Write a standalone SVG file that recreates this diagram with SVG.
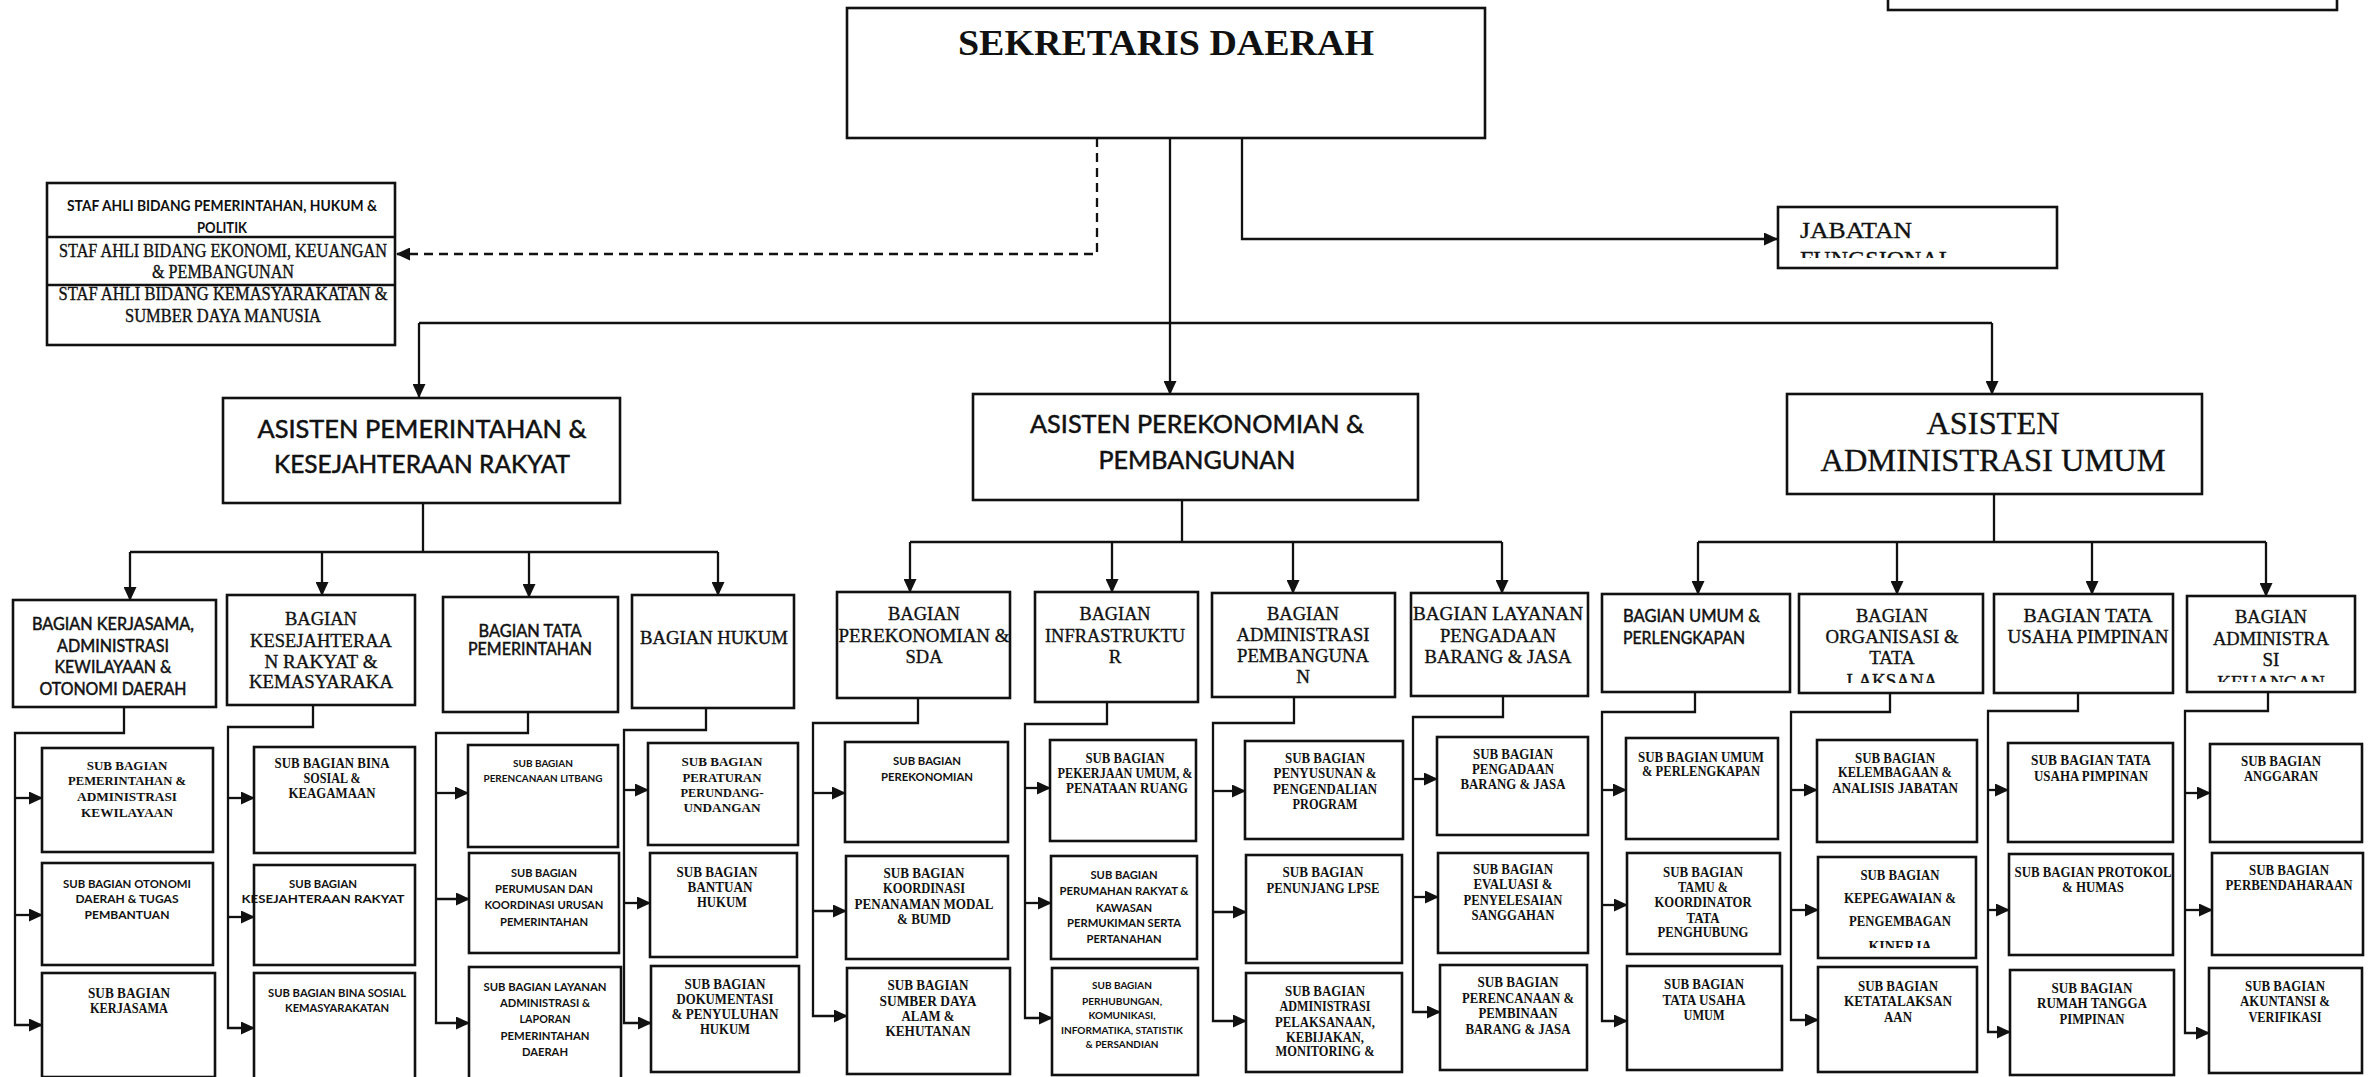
<svg xmlns="http://www.w3.org/2000/svg" width="2372" height="1077" viewBox="0 0 2372 1077">
<style>
.bx{fill:#fff;stroke:#111;stroke-width:2.6}
.c{fill:none;stroke:#111;stroke-width:2.3}
.d{stroke-dasharray:9 6}
text{fill:#111;text-anchor:middle}
.s{font-family:"Liberation Serif","Times New Roman",serif;stroke:#111;stroke-width:0.35}
.sb{font-family:"Liberation Serif","Times New Roman",serif;font-weight:bold}
.l{font-family:Lato,"Liberation Sans",sans-serif;stroke:#111;stroke-width:0.5}
.lb{font-family:Lato,"Liberation Sans",sans-serif;font-weight:bold}
</style>
<defs>
<marker id="ah" markerWidth="14" markerHeight="13" refX="13" refY="6.5" orient="auto" markerUnits="userSpaceOnUse"><path d="M0,0 L14,6.5 L0,13 z" fill="#111"/></marker>
<clipPath id="cpJab"><rect x="1778" y="207" width="279" height="51"/></clipPath>
<clipPath id="cpLak"><rect x="1799" y="594" width="184" height="89"/></clipPath>
<clipPath id="cpKeu"><rect x="2187" y="596" width="168" height="86"/></clipPath>
<clipPath id="cpKin"><rect x="1818" y="857" width="158" height="91"/></clipPath>
</defs>
<rect width="2372" height="1077" fill="#fff"/>

<g id="connectors" marker-end="url(#ah)">
<path class="c d" d="M1097,138 V254 H397"/>
<path class="c" d="M1242,138 V239 H1777"/>
<path class="c" d="M1170,138 V394"/>
<path class="c" d="M419,323 H1992" marker-end="none"/>
<path class="c" d="M419,323 V397"/>
<path class="c" d="M1992,323 V394"/>

<path class="c" d="M423,503 V552" marker-end="none"/>
<path class="c" d="M130,552 H718" marker-end="none"/>
<path class="c" d="M130,552 V600"/>
<path class="c" d="M322,552 V595"/>
<path class="c" d="M529,552 V597"/>
<path class="c" d="M718,552 V595"/>

<path class="c" d="M1182,500 V542" marker-end="none"/>
<path class="c" d="M910,542 H1502" marker-end="none"/>
<path class="c" d="M910,542 V592"/>
<path class="c" d="M1112,542 V592"/>
<path class="c" d="M1293,542 V593"/>
<path class="c" d="M1502,542 V593"/>

<path class="c" d="M1994,494 V542" marker-end="none"/>
<path class="c" d="M1698,542 H2266" marker-end="none"/>
<path class="c" d="M1698,542 V594"/>
<path class="c" d="M1897,542 V594"/>
<path class="c" d="M2092,542 V594"/>
<path class="c" d="M2266,542 V596"/>

<path class="c" d="M124,707 V733 H15 V1025 H42"/>
<path class="c" d="M15,798 H42"/>
<path class="c" d="M15,915 H42"/>

<path class="c" d="M313,705 V727 H228 V1028 H254"/>
<path class="c" d="M228,798 H254"/>
<path class="c" d="M228,917 H254"/>

<path class="c" d="M528,712 V733 H436 V1023 H469"/>
<path class="c" d="M436,793 H468"/>
<path class="c" d="M436,899 H469"/>

<path class="c" d="M706,708 V730 H624 V1023 H651"/>
<path class="c" d="M624,790 H648"/>
<path class="c" d="M624,903 H650"/>

<path class="c" d="M918,698 V723 H813 V1016 H847"/>
<path class="c" d="M813,793 H845"/>
<path class="c" d="M813,911 H846"/>

<path class="c" d="M1107,702 V724 H1025 V1018 H1052"/>
<path class="c" d="M1025,788 H1050"/>
<path class="c" d="M1025,903 H1051"/>

<path class="c" d="M1294,697 V723 H1213 V1021 H1246"/>
<path class="c" d="M1213,791 H1245"/>
<path class="c" d="M1213,912 H1246"/>

<path class="c" d="M1503,696 V717 H1413 V1012 H1440"/>
<path class="c" d="M1413,779 H1437"/>
<path class="c" d="M1413,897 H1438"/>

<path class="c" d="M1695,692 V712 H1602 V1021 H1627"/>
<path class="c" d="M1602,790 H1626"/>
<path class="c" d="M1602,905 H1627"/>

<path class="c" d="M1890,693 V712 H1791 V1020 H1818"/>
<path class="c" d="M1791,790 H1817"/>
<path class="c" d="M1791,910 H1818"/>

<path class="c" d="M2078,693 V711 H1988 V1032 H2010"/>
<path class="c" d="M1988,790 H2008"/>
<path class="c" d="M1988,910 H2009"/>

<path class="c" d="M2268,692 V711 H2185 V1033 H2209"/>
<path class="c" d="M2185,793 H2210"/>
<path class="c" d="M2185,910 H2212"/>
</g>

<g id="top-fragment"><rect class="bx" x="1888" y="-10" width="449" height="20"/></g>

<g id="sekda">
<rect class="bx" x="847" y="8" width="638" height="130"/>
<text class="sb" x="1166" y="55" font-size="35" textLength="416" lengthAdjust="spacingAndGlyphs">SEKRETARIS DAERAH</text>
</g>

<g id="staf-ahli">
<rect class="bx" x="47" y="183" width="348" height="162"/>
<line class="c" x1="47" y1="237" x2="395" y2="237"/>
<line class="c" x1="47" y1="285" x2="395" y2="285"/>
<text class="lb" x="222" y="211" font-size="15" textLength="310" lengthAdjust="spacingAndGlyphs">STAF AHLI BIDANG PEMERINTAHAN, HUKUM &amp;</text>
<text class="lb" x="222" y="233" font-size="15" textLength="50" lengthAdjust="spacingAndGlyphs">POLITIK</text>
<text class="s" x="223" y="257" font-size="18" textLength="328" lengthAdjust="spacingAndGlyphs">STAF AHLI BIDANG EKONOMI, KEUANGAN</text>
<text class="s" x="223" y="278" font-size="18" textLength="142" lengthAdjust="spacingAndGlyphs">&amp; PEMBANGUNAN</text>
<text class="s" x="223" y="300" font-size="18" textLength="329" lengthAdjust="spacingAndGlyphs">STAF AHLI BIDANG KEMASYARAKATAN &amp;</text>
<text class="s" x="223" y="322" font-size="18" textLength="196" lengthAdjust="spacingAndGlyphs">SUMBER DAYA MANUSIA</text>
</g>

<g id="jabatan-fungsional">
<rect class="bx" x="1778" y="207" width="279" height="61"/>
<text class="s" x="1800" y="238" font-size="24" style="text-anchor:start" textLength="112" lengthAdjust="spacingAndGlyphs">JABATAN</text>
<text class="s" x="1800" y="267" font-size="24" style="text-anchor:start" clip-path="url(#cpJab)">FUNGSIONAL</text>
</g>

<g id="asisten-pemerintahan">
<rect class="bx" x="223" y="398" width="397" height="105"/>
<text class="l" x="422" y="438" font-size="25" textLength="329" lengthAdjust="spacingAndGlyphs">ASISTEN PEMERINTAHAN &amp;</text>
<text class="l" x="422" y="473" font-size="25" textLength="296" lengthAdjust="spacingAndGlyphs">KESEJAHTERAAN RAKYAT</text>
</g>
<g id="asisten-perekonomian">
<rect class="bx" x="973" y="394" width="445" height="106"/>
<text class="l" x="1197" y="433" font-size="25" textLength="334" lengthAdjust="spacingAndGlyphs">ASISTEN PEREKONOMIAN &amp;</text>
<text class="l" x="1197" y="469" font-size="25" textLength="197" lengthAdjust="spacingAndGlyphs">PEMBANGUNAN</text>
</g>
<g id="asisten-administrasi">
<rect class="bx" x="1787" y="394" width="415" height="100"/>
<text class="s" x="1993" y="434" font-size="32" textLength="133" lengthAdjust="spacingAndGlyphs">ASISTEN</text>
<text class="s" x="1993" y="471" font-size="32" textLength="345" lengthAdjust="spacingAndGlyphs">ADMINISTRASI UMUM</text>
</g>

<!-- Column 1 -->
<g id="bagian-kerjasama">
<rect class="bx" x="13" y="600" width="203" height="107"/>
<text class="l" x="113" y="630" font-size="17" textLength="162" lengthAdjust="spacingAndGlyphs">BAGIAN KERJASAMA,</text>
<text class="l" x="113" y="652" font-size="17" textLength="112" lengthAdjust="spacingAndGlyphs">ADMINISTRASI</text>
<text class="l" x="113" y="673" font-size="17" textLength="117" lengthAdjust="spacingAndGlyphs">KEWILAYAAN &amp;</text>
<text class="l" x="113" y="695" font-size="17" textLength="147" lengthAdjust="spacingAndGlyphs">OTONOMI DAERAH</text>
</g>
<g id="sub-pemerintahan-adm-kewilayaan">
<rect class="bx" x="42" y="748" width="171" height="104"/>
<text class="sb" x="127" y="770" font-size="13">SUB BAGIAN</text>
<text class="sb" x="127" y="785" font-size="13" textLength="118" lengthAdjust="spacingAndGlyphs">PEMERINTAHAN &amp;</text>
<text class="sb" x="127" y="801" font-size="13" textLength="100" lengthAdjust="spacingAndGlyphs">ADMINISTRASI</text>
<text class="sb" x="127" y="817" font-size="13" textLength="92" lengthAdjust="spacingAndGlyphs">KEWILAYAAN</text>
</g>
<g id="sub-otonomi-daerah">
<rect class="bx" x="42" y="863" width="171" height="102"/>
<text class="lb" x="127" y="888" font-size="12" textLength="128" lengthAdjust="spacingAndGlyphs">SUB BAGIAN OTONOMI</text>
<text class="lb" x="127" y="903" font-size="12" textLength="103" lengthAdjust="spacingAndGlyphs">DAERAH &amp; TUGAS</text>
<text class="lb" x="127" y="919" font-size="12" textLength="85" lengthAdjust="spacingAndGlyphs">PEMBANTUAN</text>
</g>
<g id="sub-kerjasama">
<rect class="bx" x="42" y="973" width="173" height="104"/>
<text class="sb" x="129" y="998" font-size="14" textLength="82" lengthAdjust="spacingAndGlyphs">SUB BAGIAN</text>
<text class="sb" x="129" y="1013" font-size="14" textLength="78" lengthAdjust="spacingAndGlyphs">KERJASAMA</text>
</g>

<!-- Column 2 -->
<g id="bagian-kesra">
<rect class="bx" x="227" y="595" width="188" height="110"/>
<text class="s" x="321" y="625" font-size="19" textLength="72" lengthAdjust="spacingAndGlyphs">BAGIAN</text>
<text class="s" x="321" y="647" font-size="19" textLength="142" lengthAdjust="spacingAndGlyphs">KESEJAHTERAA</text>
<text class="s" x="321" y="668" font-size="19" textLength="113" lengthAdjust="spacingAndGlyphs">N RAKYAT &amp;</text>
<text class="s" x="321" y="688" font-size="19" textLength="144" lengthAdjust="spacingAndGlyphs">KEMASYARAKA</text>
</g>
<g id="sub-bina-sosial-keagamaan">
<rect class="bx" x="254" y="747" width="161" height="106"/>
<text class="sb" x="332" y="768" font-size="14" textLength="115" lengthAdjust="spacingAndGlyphs">SUB BAGIAN BINA</text>
<text class="sb" x="332" y="783" font-size="14" textLength="57" lengthAdjust="spacingAndGlyphs">SOSIAL &amp;</text>
<text class="sb" x="332" y="798" font-size="14" textLength="87" lengthAdjust="spacingAndGlyphs">KEAGAMAAN</text>
</g>
<g id="sub-kesejahteraan-rakyat">
<rect class="bx" x="254" y="865" width="161" height="100"/>
<text class="lb" x="323" y="888" font-size="12" textLength="68" lengthAdjust="spacingAndGlyphs">SUB BAGIAN</text>
<text class="lb" x="323" y="903" font-size="12" textLength="163" lengthAdjust="spacingAndGlyphs">KESEJAHTERAAN RAKYAT</text>
</g>
<g id="sub-bina-sosial-kemasyarakatan">
<rect class="bx" x="254" y="973" width="161" height="106"/>
<text class="lb" x="337" y="997" font-size="12" textLength="138" lengthAdjust="spacingAndGlyphs">SUB BAGIAN BINA SOSIAL</text>
<text class="lb" x="337" y="1012" font-size="12" textLength="104" lengthAdjust="spacingAndGlyphs">KEMASYARAKATAN</text>
</g>

<!-- Column 3 -->
<g id="bagian-tata-pemerintahan">
<rect class="bx" x="443" y="597" width="175" height="115"/>
<text class="l" x="530" y="637" font-size="18" textLength="103" lengthAdjust="spacingAndGlyphs">BAGIAN TATA</text>
<text class="l" x="530" y="655" font-size="18" textLength="124" lengthAdjust="spacingAndGlyphs">PEMERINTAHAN</text>
</g>
<g id="sub-perencanaan-litbang">
<rect class="bx" x="468" y="745" width="150" height="102"/>
<text class="lb" x="543" y="767" font-size="10" textLength="60" lengthAdjust="spacingAndGlyphs">SUB BAGIAN</text>
<text class="lb" x="543" y="782" font-size="10" textLength="119" lengthAdjust="spacingAndGlyphs">PERENCANAAN LITBANG</text>
</g>
<g id="sub-perumusan-koordinasi">
<rect class="bx" x="469" y="853" width="150" height="100"/>
<text class="lb" x="544" y="877" font-size="12" textLength="66" lengthAdjust="spacingAndGlyphs">SUB BAGIAN</text>
<text class="lb" x="544" y="893" font-size="12" textLength="98" lengthAdjust="spacingAndGlyphs">PERUMUSAN DAN</text>
<text class="lb" x="544" y="909" font-size="12" textLength="119" lengthAdjust="spacingAndGlyphs">KOORDINASI URUSAN</text>
<text class="lb" x="544" y="926" font-size="12" textLength="88" lengthAdjust="spacingAndGlyphs">PEMERINTAHAN</text>
</g>
<g id="sub-layanan-administrasi">
<rect class="bx" x="469" y="967" width="152" height="112"/>
<text class="lb" x="545" y="991" font-size="12" textLength="123" lengthAdjust="spacingAndGlyphs">SUB BAGIAN LAYANAN</text>
<text class="lb" x="545" y="1007" font-size="12" textLength="90" lengthAdjust="spacingAndGlyphs">ADMINISTRASI &amp;</text>
<text class="lb" x="545" y="1023" font-size="12" textLength="51" lengthAdjust="spacingAndGlyphs">LAPORAN</text>
<text class="lb" x="545" y="1040" font-size="12" textLength="89" lengthAdjust="spacingAndGlyphs">PEMERINTAHAN</text>
<text class="lb" x="545" y="1056" font-size="12" textLength="46" lengthAdjust="spacingAndGlyphs">DAERAH</text>
</g>

<!-- Column 4 -->
<g id="bagian-hukum">
<rect class="bx" x="632" y="595" width="162" height="113"/>
<text class="s" x="714" y="644" font-size="18" textLength="148" lengthAdjust="spacingAndGlyphs">BAGIAN HUKUM</text>
</g>
<g id="sub-peraturan">
<rect class="bx" x="648" y="743" width="150" height="102"/>
<text class="sb" x="722" y="766" font-size="13" textLength="81" lengthAdjust="spacingAndGlyphs">SUB BAGIAN</text>
<text class="sb" x="722" y="782" font-size="13" textLength="79" lengthAdjust="spacingAndGlyphs">PERATURAN</text>
<text class="sb" x="722" y="797" font-size="13" textLength="83" lengthAdjust="spacingAndGlyphs">PERUNDANG-</text>
<text class="sb" x="722" y="812" font-size="13" textLength="77" lengthAdjust="spacingAndGlyphs">UNDANGAN</text>
</g>
<g id="sub-bantuan-hukum">
<rect class="bx" x="650" y="853" width="147" height="104"/>
<text class="sb" x="717" y="877" font-size="14" textLength="81" lengthAdjust="spacingAndGlyphs">SUB BAGIAN</text>
<text class="sb" x="720" y="892" font-size="14" textLength="65" lengthAdjust="spacingAndGlyphs">BANTUAN</text>
<text class="sb" x="722" y="907" font-size="14" textLength="50" lengthAdjust="spacingAndGlyphs">HUKUM</text>
</g>
<g id="sub-dokumentasi">
<rect class="bx" x="651" y="966" width="148" height="106"/>
<text class="sb" x="725" y="989" font-size="14" textLength="81" lengthAdjust="spacingAndGlyphs">SUB BAGIAN</text>
<text class="sb" x="725" y="1004" font-size="14" textLength="97" lengthAdjust="spacingAndGlyphs">DOKUMENTASI</text>
<text class="sb" x="725" y="1019" font-size="14" textLength="107" lengthAdjust="spacingAndGlyphs">&amp; PENYULUHAN</text>
<text class="sb" x="725" y="1034" font-size="14" textLength="50" lengthAdjust="spacingAndGlyphs">HUKUM</text>
</g>

<!-- Column 5 -->
<g id="bagian-perekonomian-sda">
<rect class="bx" x="837" y="592" width="173" height="106"/>
<text class="s" x="924" y="620" font-size="19" textLength="72" lengthAdjust="spacingAndGlyphs">BAGIAN</text>
<text class="s" x="924" y="642" font-size="19" textLength="171" lengthAdjust="spacingAndGlyphs">PEREKONOMIAN &amp;</text>
<text class="s" x="924" y="663" font-size="19" textLength="37" lengthAdjust="spacingAndGlyphs">SDA</text>
</g>
<g id="sub-perekonomian">
<rect class="bx" x="845" y="742" width="163" height="100"/>
<text class="lb" x="927" y="765" font-size="11" textLength="68" lengthAdjust="spacingAndGlyphs">SUB BAGIAN</text>
<text class="lb" x="927" y="781" font-size="11" textLength="92" lengthAdjust="spacingAndGlyphs">PEREKONOMIAN</text>
</g>
<g id="sub-penanaman-modal">
<rect class="bx" x="846" y="856" width="162" height="103"/>
<text class="sb" x="924" y="878" font-size="14" textLength="81" lengthAdjust="spacingAndGlyphs">SUB BAGIAN</text>
<text class="sb" x="924" y="893" font-size="14" textLength="82" lengthAdjust="spacingAndGlyphs">KOORDINASI</text>
<text class="sb" x="924" y="909" font-size="14" textLength="139" lengthAdjust="spacingAndGlyphs">PENANAMAN MODAL</text>
<text class="sb" x="924" y="924" font-size="14" textLength="54" lengthAdjust="spacingAndGlyphs">&amp; BUMD</text>
</g>
<g id="sub-sumber-daya-alam">
<rect class="bx" x="847" y="968" width="163" height="106"/>
<text class="sb" x="928" y="990" font-size="15" textLength="81" lengthAdjust="spacingAndGlyphs">SUB BAGIAN</text>
<text class="sb" x="928" y="1006" font-size="15" textLength="97" lengthAdjust="spacingAndGlyphs">SUMBER DAYA</text>
<text class="sb" x="928" y="1021" font-size="15" textLength="53" lengthAdjust="spacingAndGlyphs">ALAM &amp;</text>
<text class="sb" x="928" y="1036" font-size="15" textLength="85" lengthAdjust="spacingAndGlyphs">KEHUTANAN</text>
</g>

<!-- Column 6 -->
<g id="bagian-infrastruktur">
<rect class="bx" x="1035" y="592" width="163" height="110"/>
<text class="s" x="1115" y="620" font-size="19" textLength="71" lengthAdjust="spacingAndGlyphs">BAGIAN</text>
<text class="s" x="1115" y="642" font-size="19" textLength="140" lengthAdjust="spacingAndGlyphs">INFRASTRUKTU</text>
<text class="s" x="1115" y="663" font-size="19">R</text>
</g>
<g id="sub-pekerjaan-umum">
<rect class="bx" x="1050" y="740" width="146" height="101"/>
<text class="sb" x="1125" y="763" font-size="14" textLength="79" lengthAdjust="spacingAndGlyphs">SUB BAGIAN</text>
<text class="sb" x="1125" y="778" font-size="14" textLength="135" lengthAdjust="spacingAndGlyphs">PEKERJAAN UMUM, &amp;</text>
<text class="sb" x="1127" y="793" font-size="14" textLength="122" lengthAdjust="spacingAndGlyphs">PENATAAN RUANG</text>
</g>
<g id="sub-perumahan-rakyat">
<rect class="bx" x="1051" y="856" width="146" height="103"/>
<text class="lb" x="1124" y="879" font-size="12" textLength="67" lengthAdjust="spacingAndGlyphs">SUB BAGIAN</text>
<text class="lb" x="1124" y="895" font-size="12" textLength="129" lengthAdjust="spacingAndGlyphs">PERUMAHAN RAKYAT &amp;</text>
<text class="lb" x="1124" y="912" font-size="12" textLength="56" lengthAdjust="spacingAndGlyphs">KAWASAN</text>
<text class="lb" x="1124" y="927" font-size="12" textLength="114" lengthAdjust="spacingAndGlyphs">PERMUKIMAN SERTA</text>
<text class="lb" x="1124" y="943" font-size="12" textLength="75" lengthAdjust="spacingAndGlyphs">PERTANAHAN</text>
</g>
<g id="sub-perhubungan">
<rect class="bx" x="1052" y="968" width="146" height="107"/>
<text class="lb" x="1122" y="989" font-size="10" textLength="60" lengthAdjust="spacingAndGlyphs">SUB BAGIAN</text>
<text class="lb" x="1122" y="1005" font-size="10" textLength="80" lengthAdjust="spacingAndGlyphs">PERHUBUNGAN,</text>
<text class="lb" x="1122" y="1019" font-size="10" textLength="67" lengthAdjust="spacingAndGlyphs">KOMUNIKASI,</text>
<text class="lb" x="1122" y="1034" font-size="10" textLength="122" lengthAdjust="spacingAndGlyphs">INFORMATIKA, STATISTIK</text>
<text class="lb" x="1122" y="1048" font-size="10" textLength="73" lengthAdjust="spacingAndGlyphs">&amp; PERSANDIAN</text>
</g>

<!-- Column 7 -->
<g id="bagian-administrasi-pembangunan">
<rect class="bx" x="1212" y="593" width="183" height="104"/>
<text class="s" x="1303" y="620" font-size="19" textLength="72" lengthAdjust="spacingAndGlyphs">BAGIAN</text>
<text class="s" x="1303" y="641" font-size="19" textLength="133" lengthAdjust="spacingAndGlyphs">ADMINISTRASI</text>
<text class="s" x="1303" y="662" font-size="19" textLength="132" lengthAdjust="spacingAndGlyphs">PEMBANGUNA</text>
<text class="s" x="1303" y="683" font-size="19">N</text>
</g>
<g id="sub-penyusunan-program">
<rect class="bx" x="1245" y="741" width="158" height="98"/>
<text class="sb" x="1325" y="763" font-size="14" textLength="80" lengthAdjust="spacingAndGlyphs">SUB BAGIAN</text>
<text class="sb" x="1325" y="778" font-size="14" textLength="103" lengthAdjust="spacingAndGlyphs">PENYUSUNAN &amp;</text>
<text class="sb" x="1325" y="794" font-size="14" textLength="104" lengthAdjust="spacingAndGlyphs">PENGENDALIAN</text>
<text class="sb" x="1325" y="809" font-size="14" textLength="65" lengthAdjust="spacingAndGlyphs">PROGRAM</text>
</g>
<g id="sub-penunjang-lpse">
<rect class="bx" x="1246" y="855" width="156" height="108"/>
<text class="sb" x="1323" y="877" font-size="14" textLength="81" lengthAdjust="spacingAndGlyphs">SUB BAGIAN</text>
<text class="sb" x="1323" y="893" font-size="14" textLength="113" lengthAdjust="spacingAndGlyphs">PENUNJANG LPSE</text>
</g>
<g id="sub-administrasi-pelaksanaan">
<rect class="bx" x="1246" y="973" width="156" height="99"/>
<text class="sb" x="1325" y="996" font-size="14" textLength="80" lengthAdjust="spacingAndGlyphs">SUB BAGIAN</text>
<text class="sb" x="1325" y="1011" font-size="14" textLength="91" lengthAdjust="spacingAndGlyphs">ADMINISTRASI</text>
<text class="sb" x="1325" y="1027" font-size="14" textLength="100" lengthAdjust="spacingAndGlyphs">PELAKSANAAN,</text>
<text class="sb" x="1325" y="1042" font-size="14" textLength="78" lengthAdjust="spacingAndGlyphs">KEBIJAKAN,</text>
<text class="sb" x="1325" y="1056" font-size="14" textLength="99" lengthAdjust="spacingAndGlyphs">MONITORING &amp;</text>
</g>

<!-- Column 8 -->
<g id="bagian-layanan-pengadaan">
<rect class="bx" x="1411" y="593" width="177" height="103"/>
<text class="s" x="1498" y="620" font-size="19" textLength="170" lengthAdjust="spacingAndGlyphs">BAGIAN LAYANAN</text>
<text class="s" x="1498" y="642" font-size="19" textLength="116" lengthAdjust="spacingAndGlyphs">PENGADAAN</text>
<text class="s" x="1498" y="663" font-size="19" textLength="147" lengthAdjust="spacingAndGlyphs">BARANG &amp; JASA</text>
</g>
<g id="sub-pengadaan">
<rect class="bx" x="1437" y="737" width="151" height="98"/>
<text class="sb" x="1513" y="759" font-size="14" textLength="80" lengthAdjust="spacingAndGlyphs">SUB BAGIAN</text>
<text class="sb" x="1513" y="774" font-size="14" textLength="82" lengthAdjust="spacingAndGlyphs">PENGADAAN</text>
<text class="sb" x="1513" y="789" font-size="14" textLength="105" lengthAdjust="spacingAndGlyphs">BARANG &amp; JASA</text>
</g>
<g id="sub-evaluasi">
<rect class="bx" x="1438" y="853" width="150" height="100"/>
<text class="sb" x="1513" y="874" font-size="14" textLength="80" lengthAdjust="spacingAndGlyphs">SUB BAGIAN</text>
<text class="sb" x="1513" y="889" font-size="14" textLength="79" lengthAdjust="spacingAndGlyphs">EVALUASI &amp;</text>
<text class="sb" x="1513" y="905" font-size="14" textLength="99" lengthAdjust="spacingAndGlyphs">PENYELESAIAN</text>
<text class="sb" x="1513" y="920" font-size="14" textLength="83" lengthAdjust="spacingAndGlyphs">SANGGAHAN</text>
</g>
<g id="sub-perencanaan-pembinaan">
<rect class="bx" x="1440" y="965" width="147" height="105"/>
<text class="sb" x="1518" y="987" font-size="14" textLength="81" lengthAdjust="spacingAndGlyphs">SUB BAGIAN</text>
<text class="sb" x="1518" y="1003" font-size="14" textLength="112" lengthAdjust="spacingAndGlyphs">PERENCANAAN &amp;</text>
<text class="sb" x="1518" y="1018" font-size="14" textLength="79" lengthAdjust="spacingAndGlyphs">PEMBINAAN</text>
<text class="sb" x="1518" y="1034" font-size="14" textLength="105" lengthAdjust="spacingAndGlyphs">BARANG &amp; JASA</text>
</g>

<!-- Column 9 -->
<g id="bagian-umum-perlengkapan">
<rect class="bx" x="1602" y="594" width="188" height="98"/>
<text class="l" x="1623" y="622" font-size="18" style="text-anchor:start" textLength="137" lengthAdjust="spacingAndGlyphs">BAGIAN UMUM &amp;</text>
<text class="l" x="1623" y="644" font-size="18" style="text-anchor:start" textLength="122" lengthAdjust="spacingAndGlyphs">PERLENGKAPAN</text>
</g>
<g id="sub-umum-perlengkapan">
<rect class="bx" x="1626" y="738" width="152" height="101"/>
<text class="sb" x="1701" y="762" font-size="14" textLength="126" lengthAdjust="spacingAndGlyphs">SUB BAGIAN UMUM</text>
<text class="sb" x="1701" y="776" font-size="14" textLength="118" lengthAdjust="spacingAndGlyphs">&amp; PERLENGKAPAN</text>
</g>
<g id="sub-tamu-koordinator">
<rect class="bx" x="1627" y="853" width="153" height="101"/>
<text class="sb" x="1703" y="877" font-size="14" textLength="80" lengthAdjust="spacingAndGlyphs">SUB BAGIAN</text>
<text class="sb" x="1703" y="892" font-size="14" textLength="50" lengthAdjust="spacingAndGlyphs">TAMU &amp;</text>
<text class="sb" x="1703" y="907" font-size="14" textLength="97" lengthAdjust="spacingAndGlyphs">KOORDINATOR</text>
<text class="sb" x="1703" y="923" font-size="14" textLength="33" lengthAdjust="spacingAndGlyphs">TATA</text>
<text class="sb" x="1703" y="937" font-size="14" textLength="91" lengthAdjust="spacingAndGlyphs">PENGHUBUNG</text>
</g>
<g id="sub-tata-usaha-umum">
<rect class="bx" x="1627" y="966" width="155" height="104"/>
<text class="sb" x="1704" y="989" font-size="14" textLength="80" lengthAdjust="spacingAndGlyphs">SUB BAGIAN</text>
<text class="sb" x="1704" y="1005" font-size="14" textLength="83" lengthAdjust="spacingAndGlyphs">TATA USAHA</text>
<text class="sb" x="1704" y="1020" font-size="14" textLength="41" lengthAdjust="spacingAndGlyphs">UMUM</text>
</g>

<!-- Column 10 -->
<g id="bagian-organisasi">
<rect class="bx" x="1799" y="594" width="184" height="99"/>
<text class="s" x="1892" y="622" font-size="19" textLength="72" lengthAdjust="spacingAndGlyphs">BAGIAN</text>
<text class="s" x="1892" y="643" font-size="19" textLength="133" lengthAdjust="spacingAndGlyphs">ORGANISASI &amp;</text>
<text class="s" x="1892" y="664" font-size="19">TATA</text>
<text class="s" x="1892" y="687" font-size="19" clip-path="url(#cpLak)">LAKSANA</text>
</g>
<g id="sub-kelembagaan">
<rect class="bx" x="1817" y="740" width="160" height="102"/>
<text class="sb" x="1895" y="763" font-size="14" textLength="80" lengthAdjust="spacingAndGlyphs">SUB BAGIAN</text>
<text class="sb" x="1895" y="777" font-size="14" textLength="114" lengthAdjust="spacingAndGlyphs">KELEMBAGAAN &amp;</text>
<text class="sb" x="1895" y="793" font-size="14" textLength="126" lengthAdjust="spacingAndGlyphs">ANALISIS JABATAN</text>
</g>
<g id="sub-kepegawaian">
<rect class="bx" x="1818" y="857" width="158" height="101"/>
<text class="sb" x="1900" y="880" font-size="14" textLength="79" lengthAdjust="spacingAndGlyphs">SUB BAGIAN</text>
<text class="sb" x="1900" y="903" font-size="14" textLength="112" lengthAdjust="spacingAndGlyphs">KEPEGAWAIAN &amp;</text>
<text class="sb" x="1900" y="926" font-size="14" textLength="102" lengthAdjust="spacingAndGlyphs">PENGEMBAGAN</text>
<text class="sb" x="1900" y="951" font-size="14" clip-path="url(#cpKin)">KINERJA</text>
</g>
<g id="sub-ketatalaksanaan">
<rect class="bx" x="1818" y="967" width="159" height="105"/>
<text class="sb" x="1898" y="991" font-size="14" textLength="80" lengthAdjust="spacingAndGlyphs">SUB BAGIAN</text>
<text class="sb" x="1898" y="1006" font-size="14" textLength="108" lengthAdjust="spacingAndGlyphs">KETATALAKSAN</text>
<text class="sb" x="1898" y="1022" font-size="14" textLength="28" lengthAdjust="spacingAndGlyphs">AAN</text>
</g>

<!-- Column 11 -->
<g id="bagian-tata-usaha-pimpinan">
<rect class="bx" x="1994" y="594" width="179" height="99"/>
<text class="s" x="2088" y="622" font-size="19" textLength="129" lengthAdjust="spacingAndGlyphs">BAGIAN TATA</text>
<text class="s" x="2088" y="643" font-size="19" textLength="161" lengthAdjust="spacingAndGlyphs">USAHA PIMPINAN</text>
</g>
<g id="sub-tata-usaha-pimpinan">
<rect class="bx" x="2008" y="743" width="165" height="99"/>
<text class="sb" x="2091" y="765" font-size="14" textLength="120" lengthAdjust="spacingAndGlyphs">SUB BAGIAN TATA</text>
<text class="sb" x="2091" y="781" font-size="14" textLength="114" lengthAdjust="spacingAndGlyphs">USAHA PIMPINAN</text>
</g>
<g id="sub-protokol-humas">
<rect class="bx" x="2009" y="854" width="164" height="101"/>
<text class="sb" x="2093" y="877" font-size="14" textLength="157" lengthAdjust="spacingAndGlyphs">SUB BAGIAN PROTOKOL</text>
<text class="sb" x="2093" y="892" font-size="14" textLength="62" lengthAdjust="spacingAndGlyphs">&amp; HUMAS</text>
</g>
<g id="sub-rumah-tangga">
<rect class="bx" x="2010" y="970" width="164" height="105"/>
<text class="sb" x="2092" y="993" font-size="14" textLength="81" lengthAdjust="spacingAndGlyphs">SUB BAGIAN</text>
<text class="sb" x="2092" y="1008" font-size="14" textLength="110" lengthAdjust="spacingAndGlyphs">RUMAH TANGGA</text>
<text class="sb" x="2092" y="1024" font-size="14" textLength="65" lengthAdjust="spacingAndGlyphs">PIMPINAN</text>
</g>

<!-- Column 12 -->
<g id="bagian-administrasi-keuangan">
<rect class="bx" x="2187" y="596" width="168" height="96"/>
<text class="s" x="2271" y="623" font-size="19" textLength="72" lengthAdjust="spacingAndGlyphs">BAGIAN</text>
<text class="s" x="2271" y="645" font-size="19" textLength="116" lengthAdjust="spacingAndGlyphs">ADMINISTRA</text>
<text class="s" x="2271" y="666" font-size="19">SI</text>
<text class="s" x="2271" y="689" font-size="19" clip-path="url(#cpKeu)">KEUANGAN</text>
</g>
<g id="sub-anggaran">
<rect class="bx" x="2210" y="744" width="152" height="98"/>
<text class="sb" x="2281" y="766" font-size="14" textLength="80" lengthAdjust="spacingAndGlyphs">SUB BAGIAN</text>
<text class="sb" x="2281" y="781" font-size="14" textLength="74" lengthAdjust="spacingAndGlyphs">ANGGARAN</text>
</g>
<g id="sub-perbendaharaan">
<rect class="bx" x="2212" y="853" width="151" height="102"/>
<text class="sb" x="2289" y="875" font-size="14" textLength="80" lengthAdjust="spacingAndGlyphs">SUB BAGIAN</text>
<text class="sb" x="2289" y="890" font-size="14" textLength="127" lengthAdjust="spacingAndGlyphs">PERBENDAHARAAN</text>
</g>
<g id="sub-akuntansi">
<rect class="bx" x="2209" y="968" width="153" height="105"/>
<text class="sb" x="2285" y="991" font-size="14" textLength="80" lengthAdjust="spacingAndGlyphs">SUB BAGIAN</text>
<text class="sb" x="2285" y="1006" font-size="14" textLength="90" lengthAdjust="spacingAndGlyphs">AKUNTANSI &amp;</text>
<text class="sb" x="2285" y="1022" font-size="14" textLength="73" lengthAdjust="spacingAndGlyphs">VERIFIKASI</text>
</g>
</svg>
